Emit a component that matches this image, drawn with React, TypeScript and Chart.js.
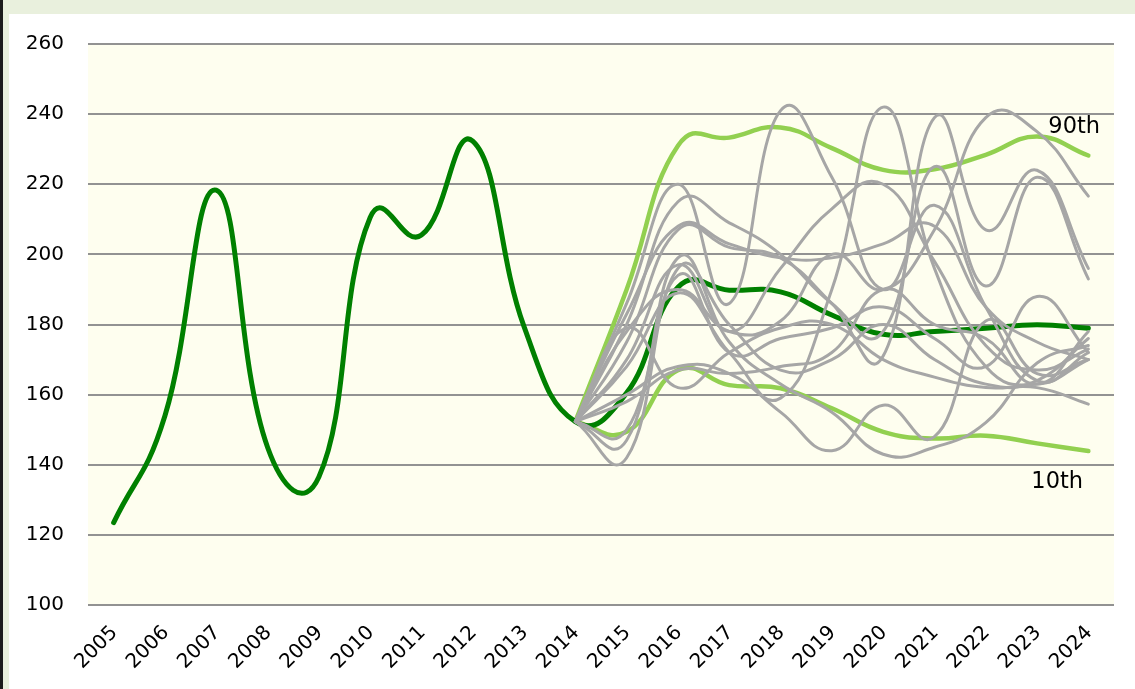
import React, { useEffect, useRef } from 'react';
import { Chart, registerables } from 'chart.js';

Chart.register(...registerables);

const years = ['2005','2006','2007','2008','2009','2010','2011','2012','2013','2014','2015','2016','2017','2018','2019','2020','2021','2022','2023','2024'];
const yMin = 100;
const yMax = 260;
const yStep = 20;

// Actual index 2005-2014, then median projection 2015-2024
const actualAndMedian = [123.5, 154, 218.3, 145, 136.5, 210.5, 205.5, 232.3, 179.4, 152.3, 160.5, 190.6, 189.8, 189.3, 182.7, 177.2, 178.0, 178.9, 179.9, 178.9];

// Percentile bands 2014-2024
const p90 = [152.3, 190, 231, 233.3, 236.2, 230.3, 224.1, 224.3, 228.4, 233.6, 228.2];
const p10 = [152.3, 149.4, 167, 162.7, 161.8, 156.1, 149.4, 147.5, 148.3, 146.1, 143.9];

// Simulated paths 2014-2024
const sim1 = [152.3, 186, 220, 186, 241, 222, 190, 214, 185, 164, 172];
const sim2 = [152.3, 168, 189, 172, 159, 190, 242, 196, 168, 163, 170];
const sim3 = [152.3, 175, 207, 202, 199, 186, 171, 239, 207, 224, 196];
const sim4 = [152.3, 180, 215, 209, 200, 186, 178, 225, 191, 222, 193];
const sim5 = [152.3, 183, 208, 203, 199, 199, 203, 208, 185, 175, 170];
const sim6 = [152.3, 170, 197, 178, 196, 213, 220, 198, 174, 167, 173];
const sim7 = [152.3, 178, 190, 178, 181, 200, 190, 207, 239, 235, 216.6];
const sim8 = [152.3, 179, 162, 172, 179, 180, 170, 165, 162, 162, 157.3];
const sim9 = [152.3, 160, 168, 166, 155, 144, 157, 148, 181, 166, 170];
const sim10 = [152.3, 147, 199, 175, 163, 155, 143, 145, 152, 169, 174];
const sim11 = [152.3, 142, 196, 180, 167, 170, 180, 170, 163, 164, 176];
const sim12 = [152.3, 150, 194, 172, 176, 179, 185, 176, 168, 188, 172];
const sim13 = [152.3, 158, 167, 166, 168, 172, 190, 180, 176, 163, 178];

const simulations = [sim1, sim2, sim3, sim4, sim5, sim6, sim7, sim8, sim9, sim10, sim11, sim12, sim13];

const FONT = 'Verdana, "DejaVu Sans", sans-serif';
const SMOOTH_T = 0.45;
const SMOOTH_ALPHA = 0.5;
const lead = (arr: number[]) => [...Array(years.length - arr.length).fill(null), ...arr];

// Spreadsheet-like smoothing: control points on the library's own points,
// weighted by (square root of) neighbouring segment lengths.
const smoothing = {
  id: 'smoothing',
  beforeDatasetsDraw(chart: any) {
    chart.getSortedVisibleDatasetMetas().forEach((meta: any) => {
      const line = meta.dataset;
      if (!line) return;
      const pts = meta.data.filter((p: any) => !p.skip);
      for (let i = 0; i < pts.length; i++) {
        const p = pts[i];
        const prev = pts[i - 1] || p;
        const next = pts[i + 1] || p;
        const d01 = Math.pow(Math.hypot(p.x - prev.x, p.y - prev.y), SMOOTH_ALPHA);
        const d12 = Math.pow(Math.hypot(next.x - p.x, next.y - p.y), SMOOTH_ALPHA);
        const sum = d01 + d12 || 1;
        const fa = (SMOOTH_T * d01) / sum;
        const fb = (SMOOTH_T * d12) / sum;
        const dx = next.x - prev.x;
        const dy = next.y - prev.y;
        p.cp1x = p.x - fa * dx;
        p.cp1y = p.y - fa * dy;
        p.cp2x = p.x + fb * dx;
        p.cp2y = p.y + fb * dy;
      }
      line._pointsUpdated = true;
    });
  },
};

const decor = {
  id: 'decor',
  beforeDraw(chart: any) {
    const { ctx, chartArea: a, width, height } = chart;
    ctx.save();
    ctx.fillStyle = '#e9f0dd';
    ctx.fillRect(0, 0, width, height);
    ctx.fillStyle = '#1c1c1c';
    ctx.fillRect(0, 0, 3, height);
    ctx.fillStyle = '#ffffff';
    ctx.fillRect(9, 14, width - 9, height - 14);
    ctx.fillStyle = '#fefeef';
    ctx.fillRect(a.left, a.top, a.right - a.left, a.bottom - a.top);
    ctx.restore();
  },
  afterDatasetsDraw(chart: any) {
    const { ctx } = chart;
    const n = chart.data.datasets.length;
    const m90 = chart.getDatasetMeta(n - 2);
    const m10 = chart.getDatasetMeta(n - 1);
    const p9 = m90.data[m90.data.length - 1];
    const p1 = m10.data[m10.data.length - 1];
    ctx.save();
    ctx.fillStyle = '#000';
    ctx.font = `22.5px ${FONT}`;
    ctx.textAlign = 'left';
    ctx.textBaseline = 'alphabetic';
    ctx.fillText('90th', p9.x - 40, p9.y - 22);
    ctx.fillText('10th', p1.x - 57, p1.y + 37);
    ctx.restore();
  },
};

export default function App() {
  const ref = useRef<HTMLCanvasElement | null>(null);
  useEffect(() => {
    if (!ref.current) return;
    const grayDs = simulations.map((s, i) => ({
      label: `Sim ${i + 1}`,
      data: lead(s),
      borderColor: '#a6a6a6',
      borderWidth: 3,
      pointRadius: 0,
      tension: 0.4,
      borderCapStyle: 'round' as const,
      borderJoinStyle: 'round' as const,
      fill: false,
    }));
    const chart = new Chart(ref.current, {
      type: 'line',
      data: {
        labels: years,
        datasets: [
          ...grayDs,
          {
            label: 'Index',
            data: actualAndMedian,
            borderColor: '#008000',
            borderWidth: 5,
            pointRadius: 0,
            tension: 0.4,
            borderCapStyle: 'round',
            borderJoinStyle: 'round',
            fill: false,
          },
          {
            label: '90th',
            data: lead(p90),
            borderColor: '#92d050',
            borderWidth: 4.5,
            pointRadius: 0,
            tension: 0.4,
            borderCapStyle: 'round',
            fill: false,
          },
          {
            label: '10th',
            data: lead(p10),
            borderColor: '#92d050',
            borderWidth: 4.5,
            pointRadius: 0,
            tension: 0.4,
            borderCapStyle: 'round',
            fill: false,
          },
        ],
      },
      options: {
        responsive: false,
        animation: false,
        events: [],
        layout: { padding: { left: 0, top: 44, right: 21, bottom: 0 } },
        plugins: { legend: { display: false }, tooltip: { enabled: false }, title: { display: false } },
        scales: {
          x: {
            offset: true,
            grid: { display: false, drawTicks: false },
            border: { display: false },
            ticks: {
              autoSkip: false,
              minRotation: 45,
              maxRotation: 45,
              padding: 16,
              labelOffset: 1,
              color: '#000',
              font: { family: FONT, size: 20 },
            },
            afterFit: (s: any) => { s.height = 84; },
          },
          y: {
            min: yMin,
            max: yMax,
            ticks: { stepSize: yStep, padding: 24, color: '#000', font: { family: FONT, size: 20 } },
            grid: { color: '#929292', lineWidth: 2, drawTicks: false },
            border: { display: false },
            afterFit: (s: any) => { s.width = 88; },
          },
        },
      },
      plugins: [decor, smoothing],
    });
    return () => chart.destroy();
  }, []);
  return (
    <canvas
      ref={ref}
      width={1135}
      height={689}
      style={{ position: 'fixed', left: 0, top: 0, width: 1135, height: 689 }}
    />
  );
}
